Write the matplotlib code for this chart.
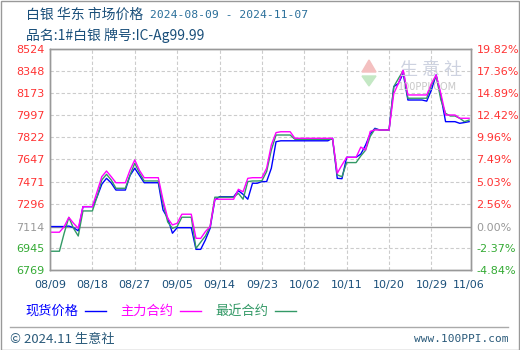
import matplotlib
matplotlib.use("Agg")
import matplotlib.pyplot as plt
from matplotlib.patches import Polygon, Rectangle

plt.rcParams['font.family'] = ['Noto Sans CJK SC', 'DejaVu Sans']

# daily values, 2024-08-09 .. 2024-11-06 (calendar days)
spot = [7114, 7114, 7114, 7114, 7118, 7105, 7080, 7272, 7272, 7272,
        7350, 7450, 7497, 7460, 7404, 7404, 7404, 7520, 7577, 7520,
        7462, 7462, 7462, 7462, 7246, 7180, 7061, 7105, 7105, 7105,
        7105, 6933, 6933, 7008, 7100, 7325, 7351, 7351, 7351, 7351,
        7399, 7370, 7331, 7458, 7458, 7471, 7471, 7577, 7788, 7795,
        7795, 7795, 7795, 7795, 7795, 7795, 7795, 7795, 7795, 7795,
        7815, 7497, 7494, 7664, 7664, 7664, 7690, 7760, 7850, 7894,
        7881, 7881, 7881, 8225, 8250, 8331, 8119, 8119, 8119, 8119,
        8110, 8200, 8318, 8150, 7947, 7947, 7947, 7934, 7940, 7947]
main = [7069, 7069, 7069, 7113, 7187, 7140, 7100, 7272, 7272, 7272,
        7391, 7510, 7555, 7510, 7462, 7462, 7462, 7563, 7643, 7560,
        7502, 7502, 7502, 7502, 7325, 7180, 7127, 7140, 7212, 7212,
        7212, 7021, 7020, 7074, 7114, 7331, 7331, 7331, 7331, 7331,
        7410, 7390, 7497, 7502, 7502, 7502, 7577, 7762, 7860, 7867,
        7867, 7867, 7815, 7815, 7815, 7815, 7815, 7815, 7815, 7815,
        7815, 7537, 7603, 7664, 7664, 7664, 7745, 7722, 7870, 7881,
        7881, 7881, 7881, 8170, 8252, 8357, 8159, 8159, 8159, 8159,
        8159, 8250, 8318, 8170, 8000, 8000, 8000, 7974, 7974, 7974]
nearest = [6918, 6918, 6918, 7060, 7187, 7100, 7039, 7238, 7238, 7238,
           7351, 7484, 7529, 7484, 7418, 7418, 7418, 7524, 7616, 7540,
           7476, 7476, 7476, 7476, 7299, 7150, 7100, 7114, 7188, 7188,
           7188, 6941, 6990, 7039, 7114, 7347, 7347, 7347, 7347, 7347,
           7378, 7331, 7471, 7476, 7476, 7478, 7550, 7722, 7841, 7841,
           7841, 7841, 7807, 7807, 7807, 7807, 7807, 7807, 7807, 7807,
           7807, 7524, 7510, 7622, 7622, 7622, 7675, 7720, 7830, 7888,
           7881, 7881, 7881, 8225, 8290, 8352, 8133, 8133, 8133, 8133,
           8133, 8240, 8310, 8120, 8013, 7992, 7992, 7974, 7947, 7960]

base = 7114
ylevels = [6769, 6945, 7114, 7296, 7471, 7647, 7822, 7997, 8173, 8348, 8524]
pct_labels = ['-4.84%', '-2.37%', '0.00%', '2.56%', '5.03%', '7.49%',
              '9.96%', '12.42%', '14.89%', '17.36%', '19.82%']
xtick_days = [0, 9, 18, 27, 36, 45, 54, 63, 72, 81, 89]
xtick_labels = ['08/09', '08/18', '08/27', '09/05', '09/14', '09/23',
                '10/02', '10/11', '10/20', '10/29', '11/06']

days = list(range(len(spot)))

fig = plt.figure(figsize=(5.2, 3.5), dpi=100)
ax = fig.add_axes([50 / 520, 1 - 270 / 350, 421 / 520, 221 / 350])

ax.set_xlim(0, 89.4)
ax.set_ylim(6769, 8524)
ax.set_yticks(ylevels)
ax.set_xticks(xtick_days)

for v in ylevels[1:-1]:
    if v == base:
        ax.axhline(v, color='#999999', lw=1.0, zorder=1)
    else:
        ax.axhline(v, color='#cccccc', lw=0.8, ls=(0, (3, 2)), zorder=1)
for d in xtick_days[1:-1]:
    ax.axvline(d, color='#cccccc', lw=0.8, ls=(0, (3, 2)), zorder=1)

ax.plot(days, spot, color='#0000ff', lw=1.0, zorder=3)
ax.plot(days, nearest, color='#339966', lw=1.0, zorder=4)
ax.plot(days, main, color='#ff00ff', lw=1.0, zorder=5)

def tick_color(v):
    if v > base:
        return '#ff3333'
    if v < base:
        return '#33aa33'
    return '#999999'

ax.set_yticklabels([str(v) for v in ylevels], fontsize=8, family='DejaVu Sans')
for lab, v in zip(ax.get_yticklabels(), ylevels):
    lab.set_color(tick_color(v))
ax.set_xticklabels(xtick_labels, fontsize=8, color='#1a4f7a', family='DejaVu Sans')
ax.tick_params(length=0, pad=4)
ax.tick_params(axis='x', pad=7)

ax2 = ax.twinx()
ax2.set_ylim(6769, 8524)
ax2.set_yticks(ylevels)
ax2.set_yticklabels(pct_labels, fontsize=8, family='DejaVu Sans')
for lab, v in zip(ax2.get_yticklabels(), ylevels):
    lab.set_color(tick_color(v))
ax2.tick_params(length=0, pad=4)

for a in (ax, ax2):
    for s in a.spines.values():
        s.set_color('#999999')
        s.set_linewidth(1.0)

# watermark
fig.text(400 / 520, 1 - 70 / 350, '生 意 社', fontsize=13, color='#cdd2e0',
         ha='left', va='center', zorder=0)
fig.text(398 / 520, 1 - 87 / 350, '100PPI.COM', fontsize=7, color='#c8c8c8',
         ha='left', va='center', family='DejaVu Sans')
fig.patches.append(Polygon([[362 / 520, 1 - 72 / 350], [369 / 520, 1 - 60 / 350],
                            [376 / 520, 1 - 72 / 350]], closed=True,
                           transform=fig.transFigure, color='#f4c0c0', zorder=0))
fig.patches.append(Polygon([[362 / 520, 1 - 76 / 350], [369 / 520, 1 - 86 / 350],
                            [376 / 520, 1 - 76 / 350]], closed=True,
                           transform=fig.transFigure, color='#c4e8c4', zorder=0))

# title
fig.text(26 / 520, 1 - 15 / 350, '白银 华东 市场价格', fontsize=10, color='#1a4f7a',
         va='center', ha='left')
fig.text(150 / 520, 1 - 15 / 350, '2024-08-09 - 2024-11-07', fontsize=8.2,
         color='#2a6f9a', va='center', ha='left', family='DejaVu Sans Mono')
fig.text(26 / 520, 1 - 35 / 350, '品名:1#白银 牌号:IC-Ag99.99', fontsize=10,
         color='#1a4f7a', va='center', ha='left')

# legend row
legend_items = [('现货价格', '#0000ff', 25), ('主力合约', '#ff00ff', 120),
                ('最近合约', '#339966', 215)]
for name, col, x0 in legend_items:
    fig.text(x0 / 520, 1 - 311 / 350, name, fontsize=9.5, color=col,
             va='center', ha='left')
    fig.lines.append(plt.Line2D([(x0 + 60) / 520, (x0 + 81) / 520],
                                [1 - 311 / 350, 1 - 311 / 350],
                                transform=fig.transFigure, color=col, lw=1.0))

# footer
fig.lines.append(plt.Line2D([10 / 520, 508 / 520], [1 - 327 / 350, 1 - 327 / 350],
                            transform=fig.transFigure, color='#aaaaaa', lw=1.0))
fig.text(10 / 520, 1 - 339 / 350, '© 2024.11 生意社', fontsize=9.5, color='#2a5a7a',
         va='center', ha='left')
fig.text(509 / 520, 1 - 339 / 350, 'www.100PPI.com', fontsize=8, color='#2a5a7a',
         va='center', ha='right', family='DejaVu Sans Mono')

fig.patches.append(Rectangle((0.5 / 520, 0.5 / 350), 518 / 520, 348.5 / 350,
                             transform=fig.transFigure, fill=False,
                             edgecolor='#999999', lw=1.0))

fig.savefig('out.png', dpi=100)
